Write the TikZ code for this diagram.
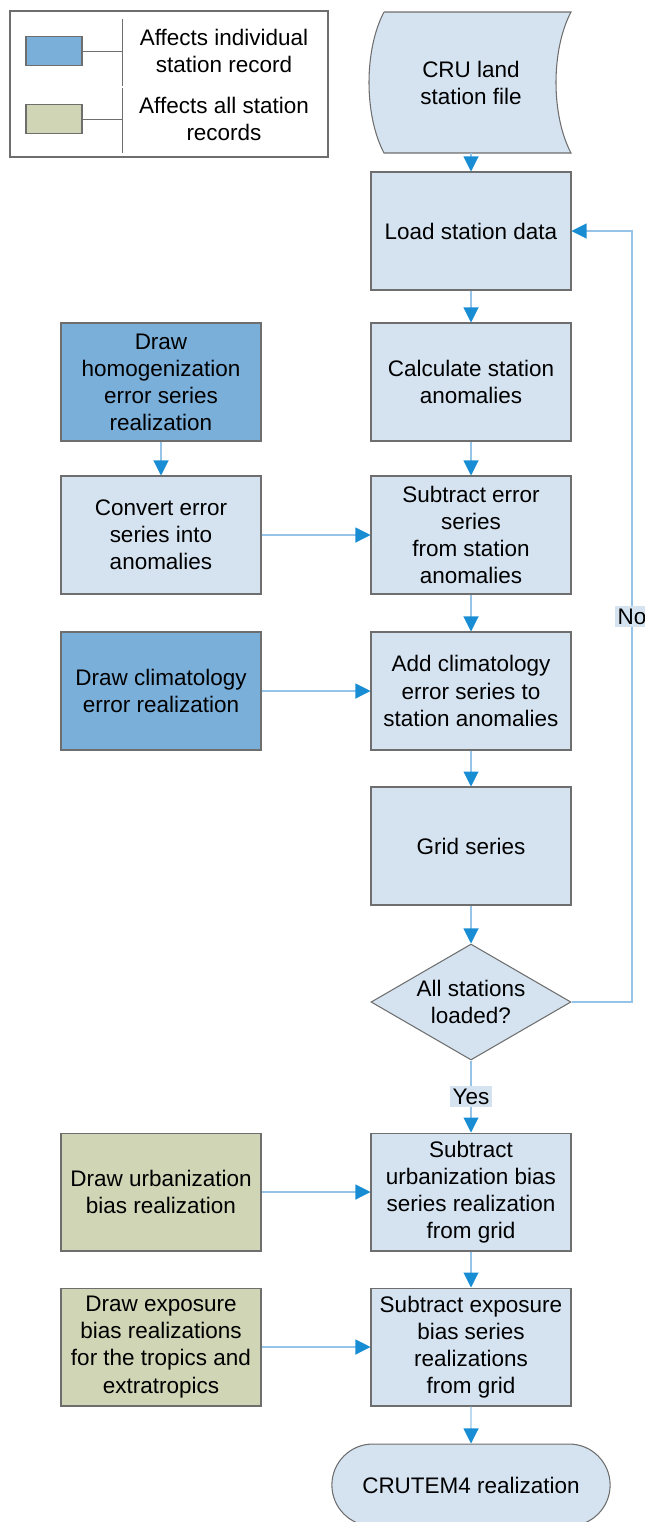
\documentclass[tikz,border=0pt]{standalone}
\usepackage{fontspec}
\setmainfont{Liberation Sans}
\usetikzlibrary{arrows.meta,shapes.geometric,shapes.misc}

\definecolor{lightfill}{RGB}{213,227,241}
\definecolor{darkfill}{RGB}{122,175,218}
\definecolor{greenfill}{RGB}{207,213,181}
\definecolor{edgegray}{RGB}{110,110,110}
\definecolor{linecol}{RGB}{150,196,232}
\definecolor{tipcol}{RGB}{24,141,212}

\newcommand{\boxfont}{\fontsize{12.8}{15.4}\selectfont}

\tikzset{
  procbox/.style={draw=edgegray, line width=0.6pt, fill=lightfill, minimum width=4cm,
    minimum height=2.36cm, align=center, inner sep=1pt, font=\boxfont},
  indivbox/.style={procbox, fill=darkfill},
  allbox/.style={procbox, fill=greenfill},
  flow/.style={draw=linecol, line width=0.6pt,
    -{Triangle[length=0.3cm, width=0.3cm, color=tipcol]}},
  answer/.style={fill=lightfill, inner sep=1.5pt, font=\boxfont}
}

\begin{document}
\begin{tikzpicture}[x=0.02cm, y=-0.02cm]
  \useasboundingbox (0,0) rectangle (645,1522);

  % Legend
  \draw[edgegray, line width=0.6pt] (10,11) rectangle (328,157);
  \node[draw=edgegray, line width=0.6pt, fill=darkfill, minimum width=1.12cm, minimum height=0.58cm] (keyindiv) at (54,51) {};
  \node[draw=edgegray, line width=0.6pt, fill=greenfill, minimum width=1.12cm, minimum height=0.58cm] (keyall) at (54,119) {};
  \coordinate (divtop) at (122,19);
  \coordinate (divmid) at (122,86);
  \coordinate (divmidb) at (122,88);
  \coordinate (divbot) at (122,153);
  \draw[edgegray, line width=0.5pt] (divtop) -- (divmid);
  \draw[edgegray, line width=0.5pt] (divmidb) -- (divbot);
  \draw[edgegray, line width=0.5pt] (keyindiv.east) -- (keyindiv.east -| divtop);
  \draw[edgegray, line width=0.5pt] (keyall.east) -- (keyall.east -| divtop);
  \node[align=center, font=\boxfont] (txtindiv) at (224,51) {Affects individual\\station record};
  \node[align=center, font=\boxfont] (txtall) at (224,119) {Affects all station\\records};

  % Input file
  \draw[edgegray, line width=0.6pt, fill=lightfill] (384,12) -- (571,12)
    .. controls (551,50) and (551,115) .. (571,153) -- (384,153)
    .. controls (364,115) and (364,50) .. (384,12);
  \node[align=center, font=\boxfont, minimum width=4cm, minimum height=2.82cm] (cru) at (471,82.5) {CRU land\\station file};

  % Main column
  \node[procbox] (load) at (471,231) {Load station data};
  \node[procbox] (calc) at (471,382) {Calculate station\\anomalies};
  \node[procbox] (suberr) at (471,535) {Subtract error\\series\\from station\\anomalies};
  \node[procbox] (addclim) at (471,691) {Add climatology\\error series to\\station anomalies};
  \node[procbox] (grid) at (471,846) {Grid series};
  \node[diamond, aspect=1.72, draw=edgegray, line width=0.6pt, fill=lightfill, minimum width=4cm,
    minimum height=2.32cm, inner sep=0pt, align=center, font=\boxfont] (chk) at (471,1002) {All stations\\loaded?};
  \node[procbox] (suburb) at (471,1192) {Subtract\\urbanization bias\\series realization\\from grid};
  \node[procbox] (subexp) at (471,1347) {Subtract exposure\\bias series\\realizations\\from grid};
  \node[rounded rectangle, draw=edgegray, line width=0.6pt, fill=lightfill, minimum width=5.8cm,
    minimum height=1.64cm, font=\boxfont] (crutem) at (471,1485) {CRUTEM4 realization};

  % Side column
  \node[indivbox] (homog) at (161,382) {Draw\\homogenization\\error series\\realization};
  \node[procbox] (conv) at (161,535) {Convert error\\series into\\anomalies};
  \node[indivbox] (clim) at (161,691) {Draw climatology\\error realization};
  \node[allbox] (urb) at (161,1192) {Draw urbanization\\bias realization};
  \node[allbox] (expo) at (161,1347) {Draw exposure\\bias realizations\\for the tropics and\\extratropics};

  % Connections
  \draw[flow] (cru.south) -- (load.north);
  \draw[flow] (load) -- (calc);
  \draw[flow] (calc) -- (suberr);
  \draw[flow] (suberr) -- (addclim);
  \draw[flow] (addclim) -- (grid);
  \draw[flow] (grid) -- (chk);
  \draw[flow] (chk) -- node[answer] (yes) {Yes} (suburb);
  \draw[flow] (suburb) -- (subexp);
  \draw[flow] (subexp) -- (crutem);
  \draw[flow] (homog) -- (conv);
  \draw[flow] (conv) -- (suberr);
  \draw[flow] (clim) -- (addclim);
  \draw[flow] (urb) -- (suburb);
  \draw[flow] (expo) -- (subexp);

  % Loop back
  \coordinate (loopturn) at (632,1002);
  \draw[flow] (chk.east) -- (loopturn) |- node[answer, pos=0.25] (no) {No} (load.east);
\end{tikzpicture}
\end{document}
